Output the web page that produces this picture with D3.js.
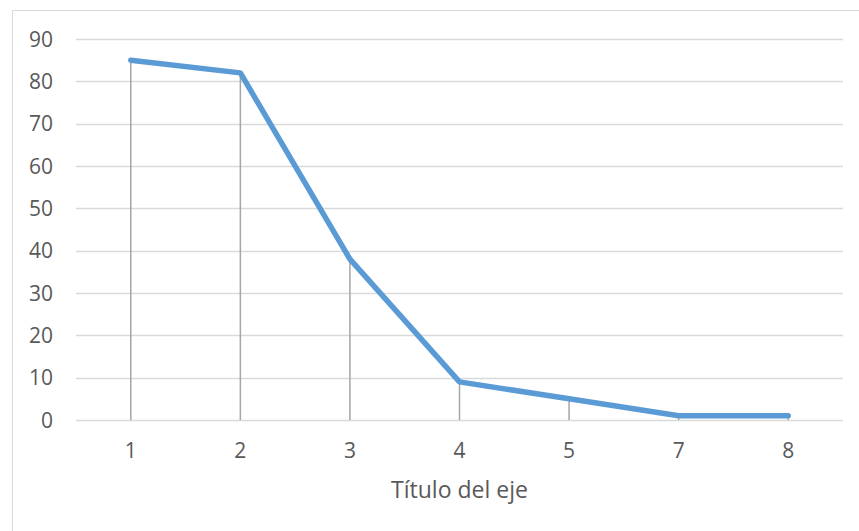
<!DOCTYPE html>
<html>
<head>
<meta charset="utf-8">
<script src="https://cdn.jsdelivr.net/npm/d3@7"></script>
<style>
  body { margin: 0; background: #fff; }
  text { font-family: "Open Sans", "Liberation Sans", sans-serif; fill: #595959; }
</style>
</head>
<body>
<div id="chart"></div>
<script>
// categories and values
const categories = ["1", "2", "3", "4", "5", "7", "8"];
const values = [85, 82, 38, 9, 5, 1, 1];
const yTicks = [0, 10, 20, 30, 40, 50, 60, 70, 80, 90];
const axisTitle = "Título del eje";

const W = 859, H = 531;
const margin = { top: 39, right: 16, bottom: 111, left: 76 };
const width = W - margin.left - margin.right;
const height = H - margin.top - margin.bottom;

const svg = d3.select("#chart").append("svg")
    .attr("width", W)
    .attr("height", H);

// chart area border (only left/top visible in the crop)
svg.append("rect")
    .attr("x", 12.5).attr("y", 10.5)
    .attr("width", 900).attr("height", 600)
    .attr("fill", "none")
    .attr("stroke", "#d9d9d9")
    .attr("stroke-width", 1);

const g = svg.append("g")
    .attr("transform", "translate(" + margin.left + "," + margin.top + ")");

const x = d3.scaleBand()
    .domain(categories)
    .range([0, width])
    .padding(0);

const y = d3.scaleLinear()
    .domain([0, 90])
    .range([height, 0]);

const cx = d => x(d) + x.bandwidth() / 2;

// gridlines
g.append("g")
    .selectAll("line")
    .data(yTicks)
    .enter()
    .append("line")
    .attr("x1", 0).attr("x2", width)
    .attr("y1", d => Math.round(y(d)) + 0.5)
    .attr("y2", d => Math.round(y(d)) + 0.5)
    .attr("stroke", "#d9d9d9")
    .attr("stroke-width", 1.5);

// y tick labels
g.append("g")
    .selectAll("text")
    .data(yTicks)
    .enter()
    .append("text")
    .attr("x", -23)
    .attr("y", d => y(d))
    .attr("dy", "0.36em")
    .attr("text-anchor", "end")
    .attr("font-size", "21px")
    .text(d => d);

// x tick labels
g.append("g")
    .selectAll("text")
    .data(categories)
    .enter()
    .append("text")
    .attr("x", d => cx(d))
    .attr("y", height + 38)
    .attr("text-anchor", "middle")
    .attr("font-size", "21px")
    .text(d => d);

// drop lines
g.append("g")
    .selectAll("line")
    .data(categories)
    .enter()
    .append("line")
    .attr("x1", d => cx(d)).attr("x2", d => cx(d))
    .attr("y1", height)
    .attr("y2", (d, i) => y(values[i]))
    .attr("stroke", "#a5a5a5")
    .attr("stroke-width", 1.5);

// series line
const line = d3.line()
    .x((d, i) => cx(categories[i]))
    .y(d => y(d));

g.append("path")
    .datum(values)
    .attr("d", line)
    .attr("fill", "none")
    .attr("stroke", "#5b9bd5")
    .attr("stroke-width", 5.5)
    .attr("stroke-linecap", "round")
    .attr("stroke-linejoin", "round");

// axis title
g.append("text")
    .attr("x", width / 2)
    .attr("y", height + 78)
    .attr("text-anchor", "middle")
    .attr("font-size", "23px")
    .text(axisTitle);
</script>
</body>
</html>
